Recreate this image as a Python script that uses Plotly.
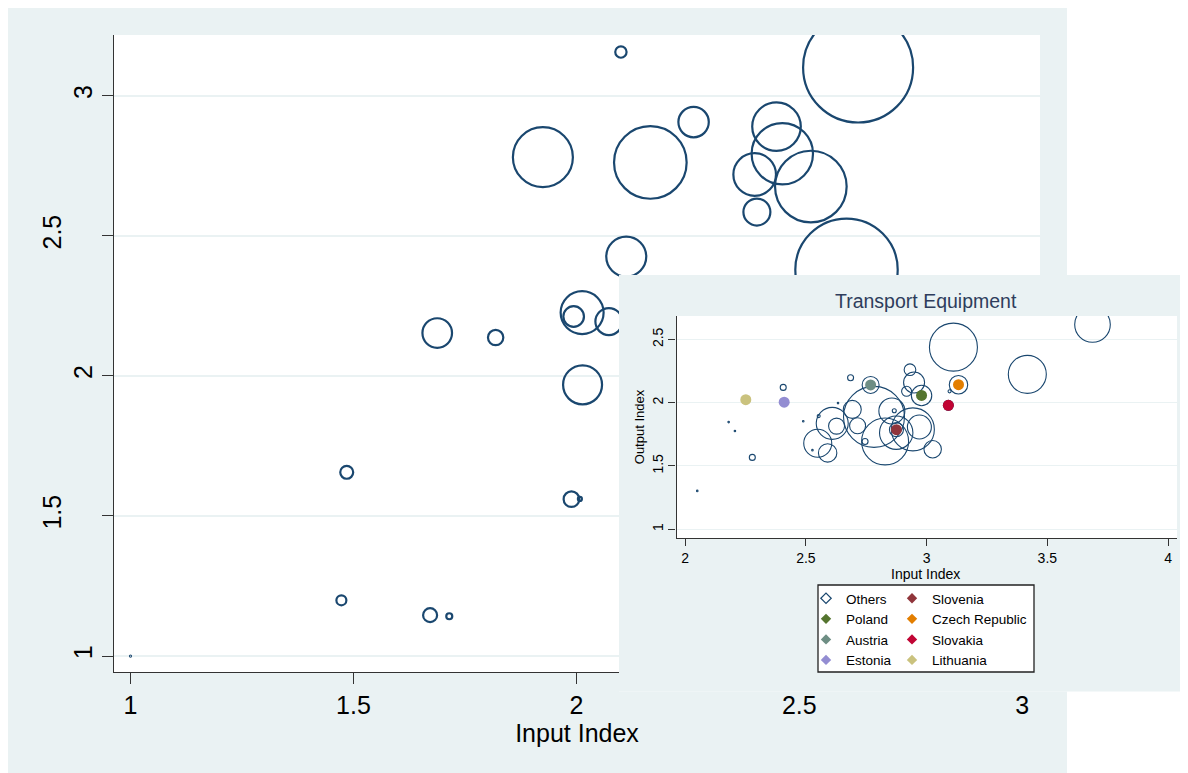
import plotly.graph_objects as go

W, H = 1180, 765          # page body adds an 8px margin -> screen 1188x773
OFF = 8
BG = "#EAF2F3"
NAVY = "#1A476F"
FONT = "Liberation Sans, Arial, sans-serif"

# ---------------- main chart data ----------------
main_x = [2.10, 2.632, 1.925, 2.166, 2.263, 2.449, 2.462, 2.400, 2.526, 2.405, 2.606, 2.112,
          2.013, 1.994, 2.073, 1.688, 1.819, 2.014, 1.485, 1.989, 2.008, 1.473, 1.672, 1.715, 1.0]
main_y = [3.156, 3.101, 2.781, 2.762, 2.906, 2.890, 2.793, 2.719, 2.676, 2.585, 2.379, 2.426,
          2.226, 2.212, 2.194, 2.153, 2.137, 1.968, 1.656, 1.560, 1.561, 1.199, 1.146, 1.142, 1.0]
main_w = [32, 3025, 900, 1318, 231, 590, 942, 454, 1282, 182, 2621, 400,
          462, 106, 182, 219, 59, 380, 42, 61, 4, 25, 49, 9, 0.25]

main_xticks = [1, 1.5, 2, 2.5, 3]
main_xticklabels = ["1", "1.5", "2", "2.5", "3"]
main_yticks_a = [1, 2, 3]
main_yticklabels_a = ["1", "2", "3"]
main_yticks_b = [1.5, 2.5]
main_yticklabels_b = ["1.5", "2.5"]

# ---------------- inset (Transport Equipment) data ----------------
others_x = [3.687, 3.111, 3.417, 2.931, 2.948, 2.917, 3.095, 2.685, 2.406, 2.278, 2.050, 2.180,
            2.206, 2.489, 2.633, 2.553, 2.527, 2.745, 2.866, 2.782, 2.828, 2.549, 2.609, 2.627,
            2.590, 2.692, 2.714, 2.856, 2.874, 2.943, 2.970, 3.025,
            2.768, 2.979, 3.132, 3.090, 2.875]
others_y = [2.618, 2.439, 2.224, 2.261, 2.160, 2.090, 2.090, 2.197, 2.121, 1.568, 1.303, 1.847,
            1.776, 1.853, 1.997, 1.894, 1.625, 1.694, 1.936, 1.888, 1.694, 1.680, 1.837, 1.815,
            1.603, 1.947, 1.818, 1.935, 1.763, 1.789, 1.808, 1.632,
            2.140, 2.057, 2.142, 1.979, 1.787]
others_w = [317, 576, 361, 34, 110, 25, 2.3, 9, 9, 9, 0.6, 0.6,
            0.6, 0.6, 0.6, 2.3, 0.6, 9, 4, 930, 552, 196, 256, 64,
            85, 81, 64, 169, 279, 462, 144, 76,
            72, 104, 85, 25, 49]

countries = ["Poland", "Austria", "Estonia", "Slovenia", "Czech Republic", "Slovakia", "Lithuania"]
country_x = [2.979, 2.768, 2.410, 2.875, 3.132, 3.090, 2.251]
country_y = [2.057, 2.140, 2.004, 1.787, 2.142, 1.979, 2.024]
country_colors = ["#55752F", "#6E8E84", "#938DD2", "#90353B", "#E37E00", "#C10534", "#CAC27E"]

legend_col1 = ["Others", "Poland", "Austria", "Estonia"]
legend_col2 = ["Slovenia", "Czech Republic", "Slovakia", "Lithuania"]

inset_xticks = [2, 2.5, 3, 3.5, 4]
inset_xticklabels = ["2", "2.5", "3", "3.5", "4"]
inset_yticks = [1, 1.5, 2, 2.5]
inset_yticklabels = ["1", "1.5", "2", "2.5"]

# ---------------- layout helpers (screen pixel -> paper) ----------------
def px(x):
    return (x - OFF) / W

def py(y):
    return 1 - (y - OFF) / H

fig = go.Figure()

# main bubbles
fig.add_trace(go.Scatter(
    x=main_x, y=main_y, mode="markers", xaxis="x", yaxis="y", showlegend=False,
    marker=dict(size=main_w, sizemode="area", sizeref=0.5, symbol="circle", opacity=1,
                color="rgba(0,0,0,0)", line=dict(color=NAVY, width=2.2)),
    hoverinfo="x+y"))
fig.add_trace(go.Scatter(x=[None], y=[None], xaxis="x", yaxis="y4", showlegend=False,
                         hoverinfo="skip"))

# inset panel background (covers main chart behind it)
fig.add_trace(go.Scatter(
    x=[-1, 2, 2, -1, -1], y=[-1, -1, 2, 2, -1], mode="lines", fill="toself",
    fillcolor=BG, line=dict(width=0, color=BG), xaxis="x2", yaxis="y2",
    showlegend=False, hoverinfo="skip"))

# inset bubbles
fig.add_trace(go.Scatter(
    x=others_x, y=others_y, mode="markers", xaxis="x3", yaxis="y3", showlegend=False,
    marker=dict(size=others_w, sizemode="area", sizeref=0.5, symbol="circle", opacity=1,
                color="rgba(0,0,0,0)", line=dict(color=NAVY, width=1.1)),
    hoverinfo="x+y"))
for name, cx, cy, col in zip(countries, country_x, country_y, country_colors):
    fig.add_trace(go.Scatter(
        x=[cx], y=[cy], mode="markers", xaxis="x3", yaxis="y3", showlegend=False,
        name=name, marker=dict(size=11, symbol="circle", color=col, line=dict(width=0)),
        hoverinfo="name+x+y"))

# legend entries
color_of = dict(zip(countries, country_colors))
for legend_id, names in (("legend", legend_col1), ("legend2", legend_col2)):
    for name in names:
        if name == "Others":
            mk = dict(size=8, symbol="diamond-open", color=NAVY, line=dict(color=NAVY, width=1.2))
        else:
            mk = dict(size=8, symbol="diamond", color=color_of[name], line=dict(width=0))
        fig.add_trace(go.Scatter(x=[None], y=[None], mode="markers", name=name, marker=mk,
                                 xaxis="x3", yaxis="y3", legend=legend_id, showlegend=True))

axis_common = dict(showline=True, linecolor="#333333", linewidth=1.3, ticks="outside",
                   tickcolor="#333333", tickwidth=1.3, zeroline=False, mirror=False)

fig.update_layout(
    width=W, height=H,
    margin=dict(l=0, r=0, t=0, b=0),
    paper_bgcolor=BG, plot_bgcolor="white",
    font=dict(family=FONT, color="black"),
    xaxis=dict(domain=[px(114), px(1040)], anchor="y", range=[0.963, 3.04],
               tickvals=main_xticks, ticktext=main_xticklabels, ticklen=11,
               tickfont=dict(size=25), showgrid=False,
               title=dict(text="Input Index", font=dict(size=25), standoff=2), **axis_common),
    yaxis=dict(domain=[py(672), py(35)], anchor="x", range=[0.943, 3.217],
               tickvals=main_yticks_a, ticktext=main_yticklabels_a, ticklen=11,
               tickangle=-90, tickfont=dict(size=25), showgrid=True,
               gridcolor=BG, gridwidth=1.5, **axis_common),
    yaxis4=dict(overlaying="y", anchor="x", side="left", range=[0.943, 3.217],
                tickvals=main_yticks_b, ticktext=main_yticklabels_b, ticks="outside",
                ticklen=11, tickcolor="#333333", tickwidth=1.3, tickangle=-90,
                tickfont=dict(size=25), ticklabelstandoff=31, showgrid=True,
                gridcolor=BG, gridwidth=1.5, showline=False, zeroline=False),
    xaxis2=dict(domain=[px(619), 1], anchor="y2", range=[0, 1], visible=False, fixedrange=True),
    yaxis2=dict(domain=[py(691.5), py(275)], anchor="x2", range=[0, 1], visible=False,
                fixedrange=True),
    xaxis3=dict(domain=[px(676.5), px(1177)], anchor="y3", range=[1.964, 4.037],
                tickvals=inset_xticks, ticktext=inset_xticklabels, ticklen=7,
                tickfont=dict(size=14), showgrid=False, **axis_common),
    yaxis3=dict(domain=[py(538), py(316)], anchor="x3", range=[0.931, 2.685],
                tickvals=inset_yticks, ticktext=inset_yticklabels, ticklen=7,
                tickangle=-90, tickfont=dict(size=14), showgrid=True, gridcolor=BG,
                gridwidth=1.2,
                title=dict(text="Output Index", font=dict(size=13), standoff=2), **axis_common),
    legend=dict(x=px(806), y=py(583), xanchor="left", yanchor="top",
                bgcolor="rgba(0,0,0,0)", borderwidth=0, font=dict(size=13.5, family=FONT),
                tracegroupgap=0),
    legend2=dict(x=px(892), y=py(583), xanchor="left", yanchor="top",
                 bgcolor="rgba(0,0,0,0)", borderwidth=0, font=dict(size=13.5, family=FONT),
                 tracegroupgap=0),
    shapes=[
        # white page to the right of the main chart's panel
        dict(type="rect", xref="paper", yref="paper", x0=px(1067), x1=1, y0=0, y1=1,
             fillcolor="white", line=dict(width=0), layer="below"),
        # legend box
        dict(type="rect", xref="paper", yref="paper", x0=px(818), x1=px(1034),
             y0=py(672), y1=py(585), fillcolor="white",
             line=dict(color="#222222", width=1.3), layer="above"),
    ],
    annotations=[
        dict(text="Transport Equipment", x=px(926), y=py(301), xref="paper", yref="paper",
             showarrow=False, xanchor="center", yanchor="middle",
             font=dict(size=19.5, color="#2E3D5C", family=FONT)),
        dict(text="Input Index", x=px(926), y=py(574), xref="paper", yref="paper",
             showarrow=False, xanchor="center", yanchor="middle",
             font=dict(size=14, color="black", family=FONT)),
    ],
)

fig.write_html(
    "out.html",
    post_script="document.documentElement.style.overflow='hidden';"
                "document.body.style.overflow='hidden';",
)
